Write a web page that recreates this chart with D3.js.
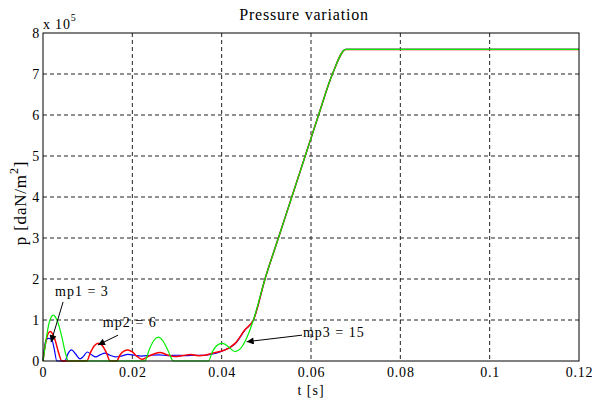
<!DOCTYPE html>
<html>
<head>
<meta charset="utf-8">
<script src="https://cdn.jsdelivr.net/npm/d3@7"></script>
<style>
  body { margin: 0; background: #fff; }
  svg { display: block; }
  text { font-family: "Liberation Serif", "Times New Roman", serif; fill: #000; }
</style>
</head>
<body>
<div id="chart"></div>
<script>
// tick values
const xTicks = [0, 0.02, 0.04, 0.06, 0.08, 0.1, 0.12];
const yTicks = [0, 1, 2, 3, 4, 5, 6, 7, 8];

// pressure curves (p in units of 1e5 daN/m^2, t in s)
const tBlue = [0, 0.0004, 0.0008, 0.0012, 0.0019, 0.0025, 0.0031, 0.0049, 0.0056, 0.0064, 0.0073, 0.0083, 0.0091, 0.0099, 0.0108, 0.0118, 0.0128, 0.0139, 0.0150, 0.0162, 0.0175, 0.0190, 0.0205, 0.0220, 0.0240, 0.0260, 0.0280, 0.0300, 0.0320, 0.0340, 0.0360, 0.0380, 0.0396, 0.0415, 0.0430, 0.0452, 0.0471, 0.0497, 0.0527, 0.0557, 0.0587, 0.0617, 0.0648, 0.0678, 0.1200];
const pBlue = [0, 0.38, 0.52, 0.55, 0.54, 0.3, 0, 0, 0.18, 0.27, 0.17, 0.05, 0.12, 0.22, 0.16, 0.1, 0.15, 0.19, 0.14, 0.1, 0.12, 0.16, 0.14, 0.12, 0.14, 0.15, 0.13, 0.14, 0.13, 0.14, 0.14, 0.17, 0.22, 0.31, 0.42, 0.75, 1.0, 2.0, 3.0, 4.0, 5.0, 6.0, 7.0, 7.6, 7.6];

const tRed = [0, 0.0006, 0.0016, 0.0026, 0.0035, 0.0042, 0.0098, 0.0106, 0.0115, 0.0124, 0.0133, 0.0142, 0.0150, 0.0165, 0.0172, 0.0181, 0.0190, 0.0200, 0.0210, 0.0222, 0.0234, 0.0248, 0.0262, 0.0278, 0.0295, 0.0312, 0.0330, 0.0348, 0.0362, 0.0376, 0.0396, 0.0415, 0.0430, 0.0452, 0.0471, 0.0497, 0.0527, 0.0557, 0.0587, 0.0617, 0.0648, 0.0678, 0.1200];
const pRed = [0, 0.45, 0.72, 0.55, 0.2, 0, 0, 0.2, 0.37, 0.43, 0.37, 0.2, 0, 0, 0.14, 0.24, 0.27, 0.22, 0.12, 0.04, 0.1, 0.17, 0.21, 0.15, 0.11, 0.13, 0.16, 0.13, 0.14, 0.18, 0.23, 0.31, 0.43, 0.76, 1.0, 2.0, 3.0, 4.0, 5.0, 6.0, 7.0, 7.6, 7.6];

const tGreen = [0, 0.0006, 0.0013, 0.0023, 0.0033, 0.0043, 0.0050, 0.0057, 0.0228, 0.0238, 0.0248, 0.0258, 0.0268, 0.0280, 0.0292, 0.0370, 0.0380, 0.0392, 0.0402, 0.0415, 0.0430, 0.0442, 0.0452, 0.0462, 0.0471, 0.0497, 0.0527, 0.0557, 0.0587, 0.0617, 0.0648, 0.0678, 0.1200];
const pGreen = [0, 0.45, 0.9, 1.12, 0.95, 0.55, 0.2, 0, 0, 0.28, 0.5, 0.58, 0.5, 0.25, 0, 0, 0.24, 0.4, 0.43, 0.35, 0.23, 0.3, 0.47, 0.72, 1.0, 2.0, 3.0, 4.0, 5.0, 6.0, 7.0, 7.6, 7.6];

// annotations: label, text position, arrow start, arrow end (data units)
const notes = [
  { label: "mp1 = 3", tx: 0.0027, ty: 1.59, x1: 0.0045, y1: 1.44, x2: 0.0018, y2: 0.46 },
  { label: "mp2 = 6", tx: 0.0134, ty: 0.83, x1: 0.0168, y1: 0.63, x2: 0.0123, y2: 0.39 },
  { label: "mp3 = 15", tx: 0.0582, ty: 0.59, x1: 0.0580, y1: 0.63, x2: 0.0456, y2: 0.47 }
];

const W = 592, H = 401;
const margin = { top: 33, right: 13, bottom: 40, left: 43 };
const width = W - margin.left - margin.right,
      height = H - margin.top - margin.bottom;

const svg = d3.select("#chart").append("svg")
  .attr("width", W).attr("height", H);

const defs = svg.append("defs");
defs.append("marker")
  .attr("id", "arrow")
  .attr("viewBox", "0 0 10 10")
  .attr("refX", 10).attr("refY", 5)
  .attr("markerWidth", 9).attr("markerHeight", 7)
  .attr("markerUnits", "userSpaceOnUse")
  .attr("orient", "auto")
  .append("path").attr("d", "M0,0L10,5L0,10z").attr("fill", "#000");

const g = svg.append("g")
  .attr("transform", `translate(${margin.left},${margin.top})`);

const x = d3.scaleLinear().domain([0, 0.12]).range([0, width]);
const y = d3.scaleLinear().domain([0, 8]).range([height, 0]);

// grid
g.append("g").selectAll("line")
  .data(xTicks.slice(1, -1))
  .enter().append("line")
  .attr("x1", d => x(d)).attr("x2", d => x(d))
  .attr("y1", 0).attr("y2", height)
  .attr("stroke", "#222").attr("stroke-dasharray", "4,3");
g.append("g").selectAll("line")
  .data(yTicks.slice(1, -1))
  .enter().append("line")
  .attr("y1", d => y(d)).attr("y2", d => y(d))
  .attr("x1", 0).attr("x2", width)
  .attr("stroke", "#222").attr("stroke-dasharray", "4,3");

// curves
const series = [
  { t: tBlue, p: pBlue, color: "#0000ff", w: 1.2 },
  { t: tRed, p: pRed, color: "#ff0000", w: 1.5 },
  { t: tGreen, p: pGreen, color: "#00ee00", w: 1.2 }
];
const line = d3.line()
  .x(d => x(d[0])).y(d => y(d[1]))
  .curve(d3.curveMonotoneX);

series.forEach(s => {
  g.append("path")
    .datum(s.t.map((t, i) => [t, s.p[i]]))
    .attr("fill", "none")
    .attr("stroke", s.color)
    .attr("stroke-width", s.w)
    .attr("d", line);
});

// axes
const xAxis = g.append("g")
  .attr("transform", `translate(0,${height})`)
  .call(d3.axisBottom(x).tickValues(xTicks).tickSize(0).tickPadding(6)
    .tickFormat(d => d3.format("")(+d.toFixed(2))));
const yAxis = g.append("g")
  .call(d3.axisLeft(y).tickValues(yTicks).tickSize(0).tickPadding(3));
[xAxis, yAxis].forEach(a => {
  a.select(".domain").remove();
  a.selectAll("text")
    .style("font-family", "'Liberation Serif', serif")
    .style("font-size", "14px")
    .style("letter-spacing", "0.8px");
});

// box
g.append("rect")
  .attr("width", width).attr("height", height)
  .attr("fill", "none").attr("stroke", "#000").attr("stroke-width", 1);

// annotations
notes.forEach(n => {
  g.append("line")
    .attr("x1", x(n.x1)).attr("y1", y(n.y1))
    .attr("x2", x(n.x2)).attr("y2", y(n.y2))
    .attr("stroke", "#000").attr("stroke-width", 1)
    .attr("marker-end", "url(#arrow)");
  g.append("text")
    .attr("x", x(n.tx)).attr("y", y(n.ty))
    .attr("font-size", "14px")
    .style("letter-spacing", "1px")
    .text(n.label);
});

// title and labels
svg.append("text")
  .attr("x", 304).attr("y", 20)
  .attr("text-anchor", "middle")
  .attr("font-size", "16px")
  .style("letter-spacing", "0.8px")
  .text("Pressure variation");

const expo = svg.append("text")
  .attr("x", margin.left).attr("y", 29)
  .attr("font-size", "14px")
  .style("letter-spacing", "0.8px");
expo.append("tspan").text("x 10");
expo.append("tspan").attr("dy", -8).attr("font-size", "10px").text("5");

svg.append("text")
  .attr("x", margin.left + width / 2).attr("y", 395)
  .attr("text-anchor", "middle")
  .attr("font-size", "14px")
  .style("letter-spacing", "1px")
  .text("t [s]");

const yl = svg.append("text")
  .attr("transform", `translate(26,${margin.top + height / 2 + 6}) rotate(-90)`)
  .attr("text-anchor", "middle")
  .attr("font-size", "17px")
  .style("letter-spacing", "0.8px");
yl.append("tspan").text("p [daN/m");
yl.append("tspan").attr("dy", -8).attr("font-size", "12px").text("2");
yl.append("tspan").attr("dy", 8).text("]");
</script>
</body>
</html>
